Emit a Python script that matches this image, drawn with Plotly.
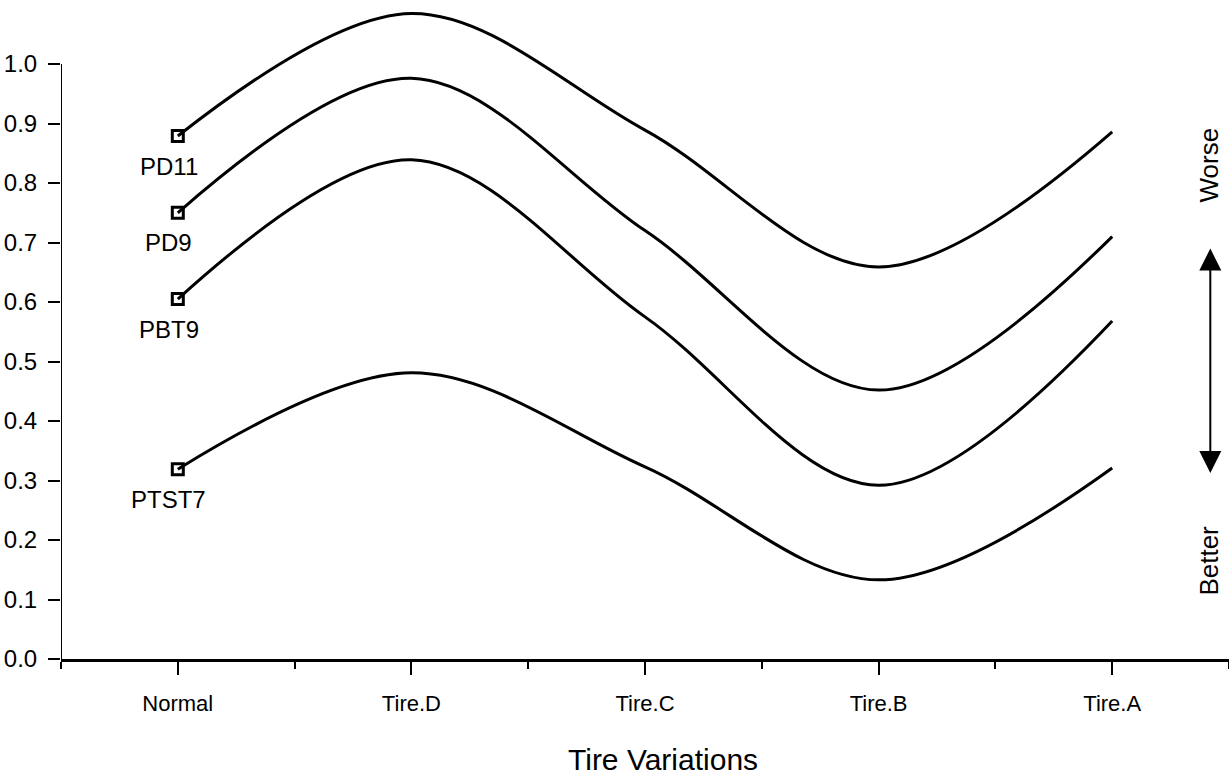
import plotly.graph_objects as go

categories = ["Normal", "Tire.D", "Tire.C", "Tire.B", "Tire.A"]
series_names = ["PD11", "PD9", "PBT9", "PTST7"]
pd11 = [0.879, 1.085, 0.889, 0.659, 0.886]
pd9 = [0.750, 0.976, 0.720, 0.452, 0.710]
pbt9 = [0.605, 0.839, 0.575, 0.292, 0.568]
ptst7 = [0.319, 0.481, 0.323, 0.133, 0.321]
y_ticks = [0.0, 0.1, 0.2, 0.3, 0.4, 0.5, 0.6, 0.7, 0.8, 0.9, 1.0]
x_title = "Tire Variations"

all_series = [pd11, pd9, pbt9, ptst7]
xpos = list(range(len(categories)))
FONT = "Liberation Sans, Arial, Helvetica, sans-serif"

fig = go.Figure()
for name, vals in zip(series_names, all_series):
    fig.add_trace(go.Scatter(
        x=xpos, y=vals, mode="lines", name=name,
        line=dict(color="black", width=3, shape="spline", smoothing=1.0),
        showlegend=False, hoverinfo="skip"))
    fig.add_trace(go.Scatter(
        x=[xpos[0]], y=[vals[0]], mode="markers", showlegend=False,
        marker=dict(symbol="square-open", size=11, color="black",
                    line=dict(color="black", width=3)),
        hoverinfo="skip"))
    fig.add_annotation(x=xpos[0], y=vals[0], xref="x", yref="y", text=name,
                       showarrow=False, yshift=-30, xshift=-9,
                       font=dict(family=FONT, size=24, color="black"))

# right-side Worse / Better indicator
fig.add_annotation(x=4.416, y=0.83, xref="x", yref="y", text="Worse",
                   textangle=-90, showarrow=False,
                   font=dict(family=FONT, size=26, color="black"))
fig.add_annotation(x=4.416, y=0.166, xref="x", yref="y", text="Better",
                   textangle=-90, showarrow=False,
                   font=dict(family=FONT, size=26, color="black"))
fig.add_annotation(x=4.42, y=0.69, ax=4.42, ay=0.31, xref="x", yref="y",
                   axref="x", ayref="y", text="", showarrow=True,
                   arrowhead=2, startarrowhead=2, arrowside="end+start",
                   arrowsize=2.2, startarrowsize=2.2, arrowwidth=2, arrowcolor="black")

# x-axis title
fig.add_annotation(x=0.515, y=-0.153, xref="paper", yref="paper", text=x_title,
                   showarrow=False, yanchor="middle",
                   font=dict(family=FONT, size=30, color="black"))

# y-axis line only up to 1.0
fig.add_shape(type="line", xref="x", yref="y", x0=-0.5, x1=-0.5, y0=0, y1=1.0,
              line=dict(color="black", width=2))

fig.update_xaxes(range=[-0.5, 4.5], tickmode="array", tickvals=xpos, ticktext=categories,
                 ticks="outside", ticklen=13, tickwidth=2, tickcolor="black",
                 minor=dict(tickmode="array", tickvals=[-0.5, 0.5, 1.5, 2.5, 3.5, 4.5],
                            ticks="outside", ticklen=7, tickwidth=2, tickcolor="black"),
                 showline=True, linewidth=3, linecolor="black",
                 showgrid=False, zeroline=False,
                 tickfont=dict(family=FONT, size=22, color="black"),
                 ticklabelstandoff=10)
fig.update_yaxes(range=[0, 1.1076], tickmode="array", tickvals=y_ticks,
                 ticktext=[f"{v:.1f}" for v in y_ticks],
                 ticks="outside", ticklen=12, tickwidth=2, tickcolor="black",
                 showline=False, showgrid=False, zeroline=False,
                 tickfont=dict(family=FONT, size=24, color="black"),
                 ticklabelstandoff=6)

fig.update_layout(width=1229, height=782, margin=dict(l=61, r=0, t=0, b=123),
                  plot_bgcolor="white", paper_bgcolor="white")

fig.write_html("out.html", config={"displayModeBar": False},
               post_script="document.body.style.margin='0px';document.body.style.overflow='hidden';")
